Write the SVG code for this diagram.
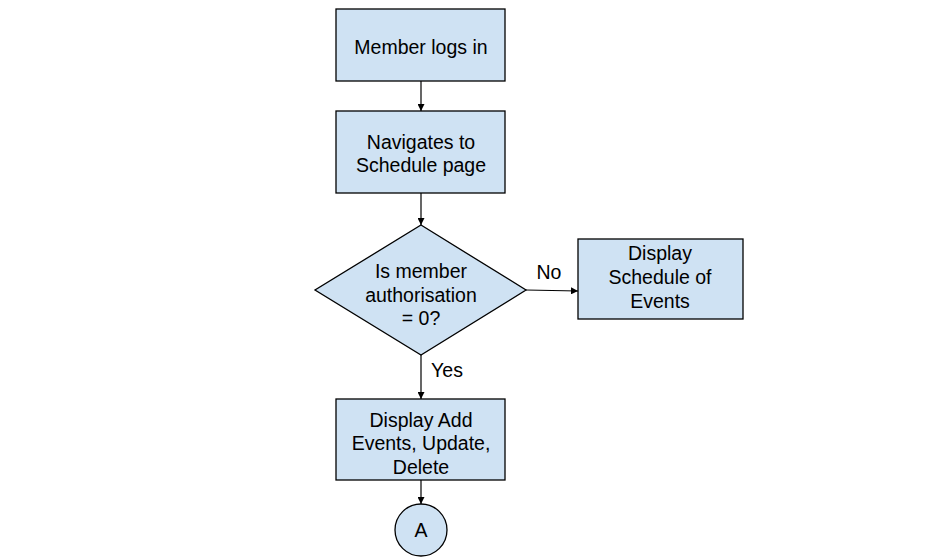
<svg xmlns="http://www.w3.org/2000/svg" width="948" height="558" viewBox="0 0 948 558">
<defs>
<marker id="ah" viewBox="0 0 10 10" refX="10" refY="5" markerWidth="7" markerHeight="7" markerUnits="userSpaceOnUse" orient="auto">
<path d="M0,0 L10,5 L0,10 z" fill="#000"/>
</marker>
<style>
.n{fill:#cfe2f3;stroke:#000;stroke-width:1.3}
.t{font-family:"Liberation Sans",Arial,sans-serif;font-size:19.5px;fill:#000;text-anchor:middle}
.c{stroke:#000;stroke-width:1.2;fill:none;marker-end:url(#ah)}
</style>
</defs>
<rect width="948" height="558" fill="#fff"/>
<g id="connectors">
<line class="c" x1="421" y1="81" x2="421" y2="111"/>
<line class="c" x1="421" y1="193" x2="421" y2="225"/>
<line class="c" x1="526" y1="290" x2="578" y2="291"/>
<line class="c" x1="421" y1="355" x2="421" y2="399"/>
<line class="c" x1="421" y1="480" x2="421" y2="504"/>
<text class="t" x="549" y="279">No</text>
<text class="t" x="447" y="377">Yes</text>
</g>
<g id="n1">
<rect class="n" x="336" y="9" width="169" height="72"/>
<text class="t" x="421" y="54">Member logs in</text>
</g>
<g id="n2">
<rect class="n" x="336" y="111" width="169" height="82"/>
<text class="t" x="421" y="149">Navigates to</text>
<text class="t" x="421" y="172">Schedule page</text>
</g>
<g id="n3">
<polygon class="n" points="421,225 526,290 421,355 315,290"/>
<text class="t" x="421" y="278">Is member</text>
<text class="t" x="421" y="302">authorisation</text>
<text class="t" x="421" y="325">= 0?</text>
</g>
<g id="n4">
<rect class="n" x="578" y="239" width="165" height="80"/>
<text class="t" x="660" y="260">Display</text>
<text class="t" x="660" y="284">Schedule of</text>
<text class="t" x="660" y="308">Events</text>
</g>
<g id="n5">
<rect class="n" x="336" y="399" width="169" height="81"/>
<text class="t" x="421" y="427">Display Add</text>
<text class="t" x="421" y="450">Events, Update,</text>
<text class="t" x="421" y="474">Delete</text>
</g>
<g id="n6">
<circle class="n" cx="421" cy="530" r="26"/>
<text class="t" x="421" y="537">A</text>
</g>
</svg>
